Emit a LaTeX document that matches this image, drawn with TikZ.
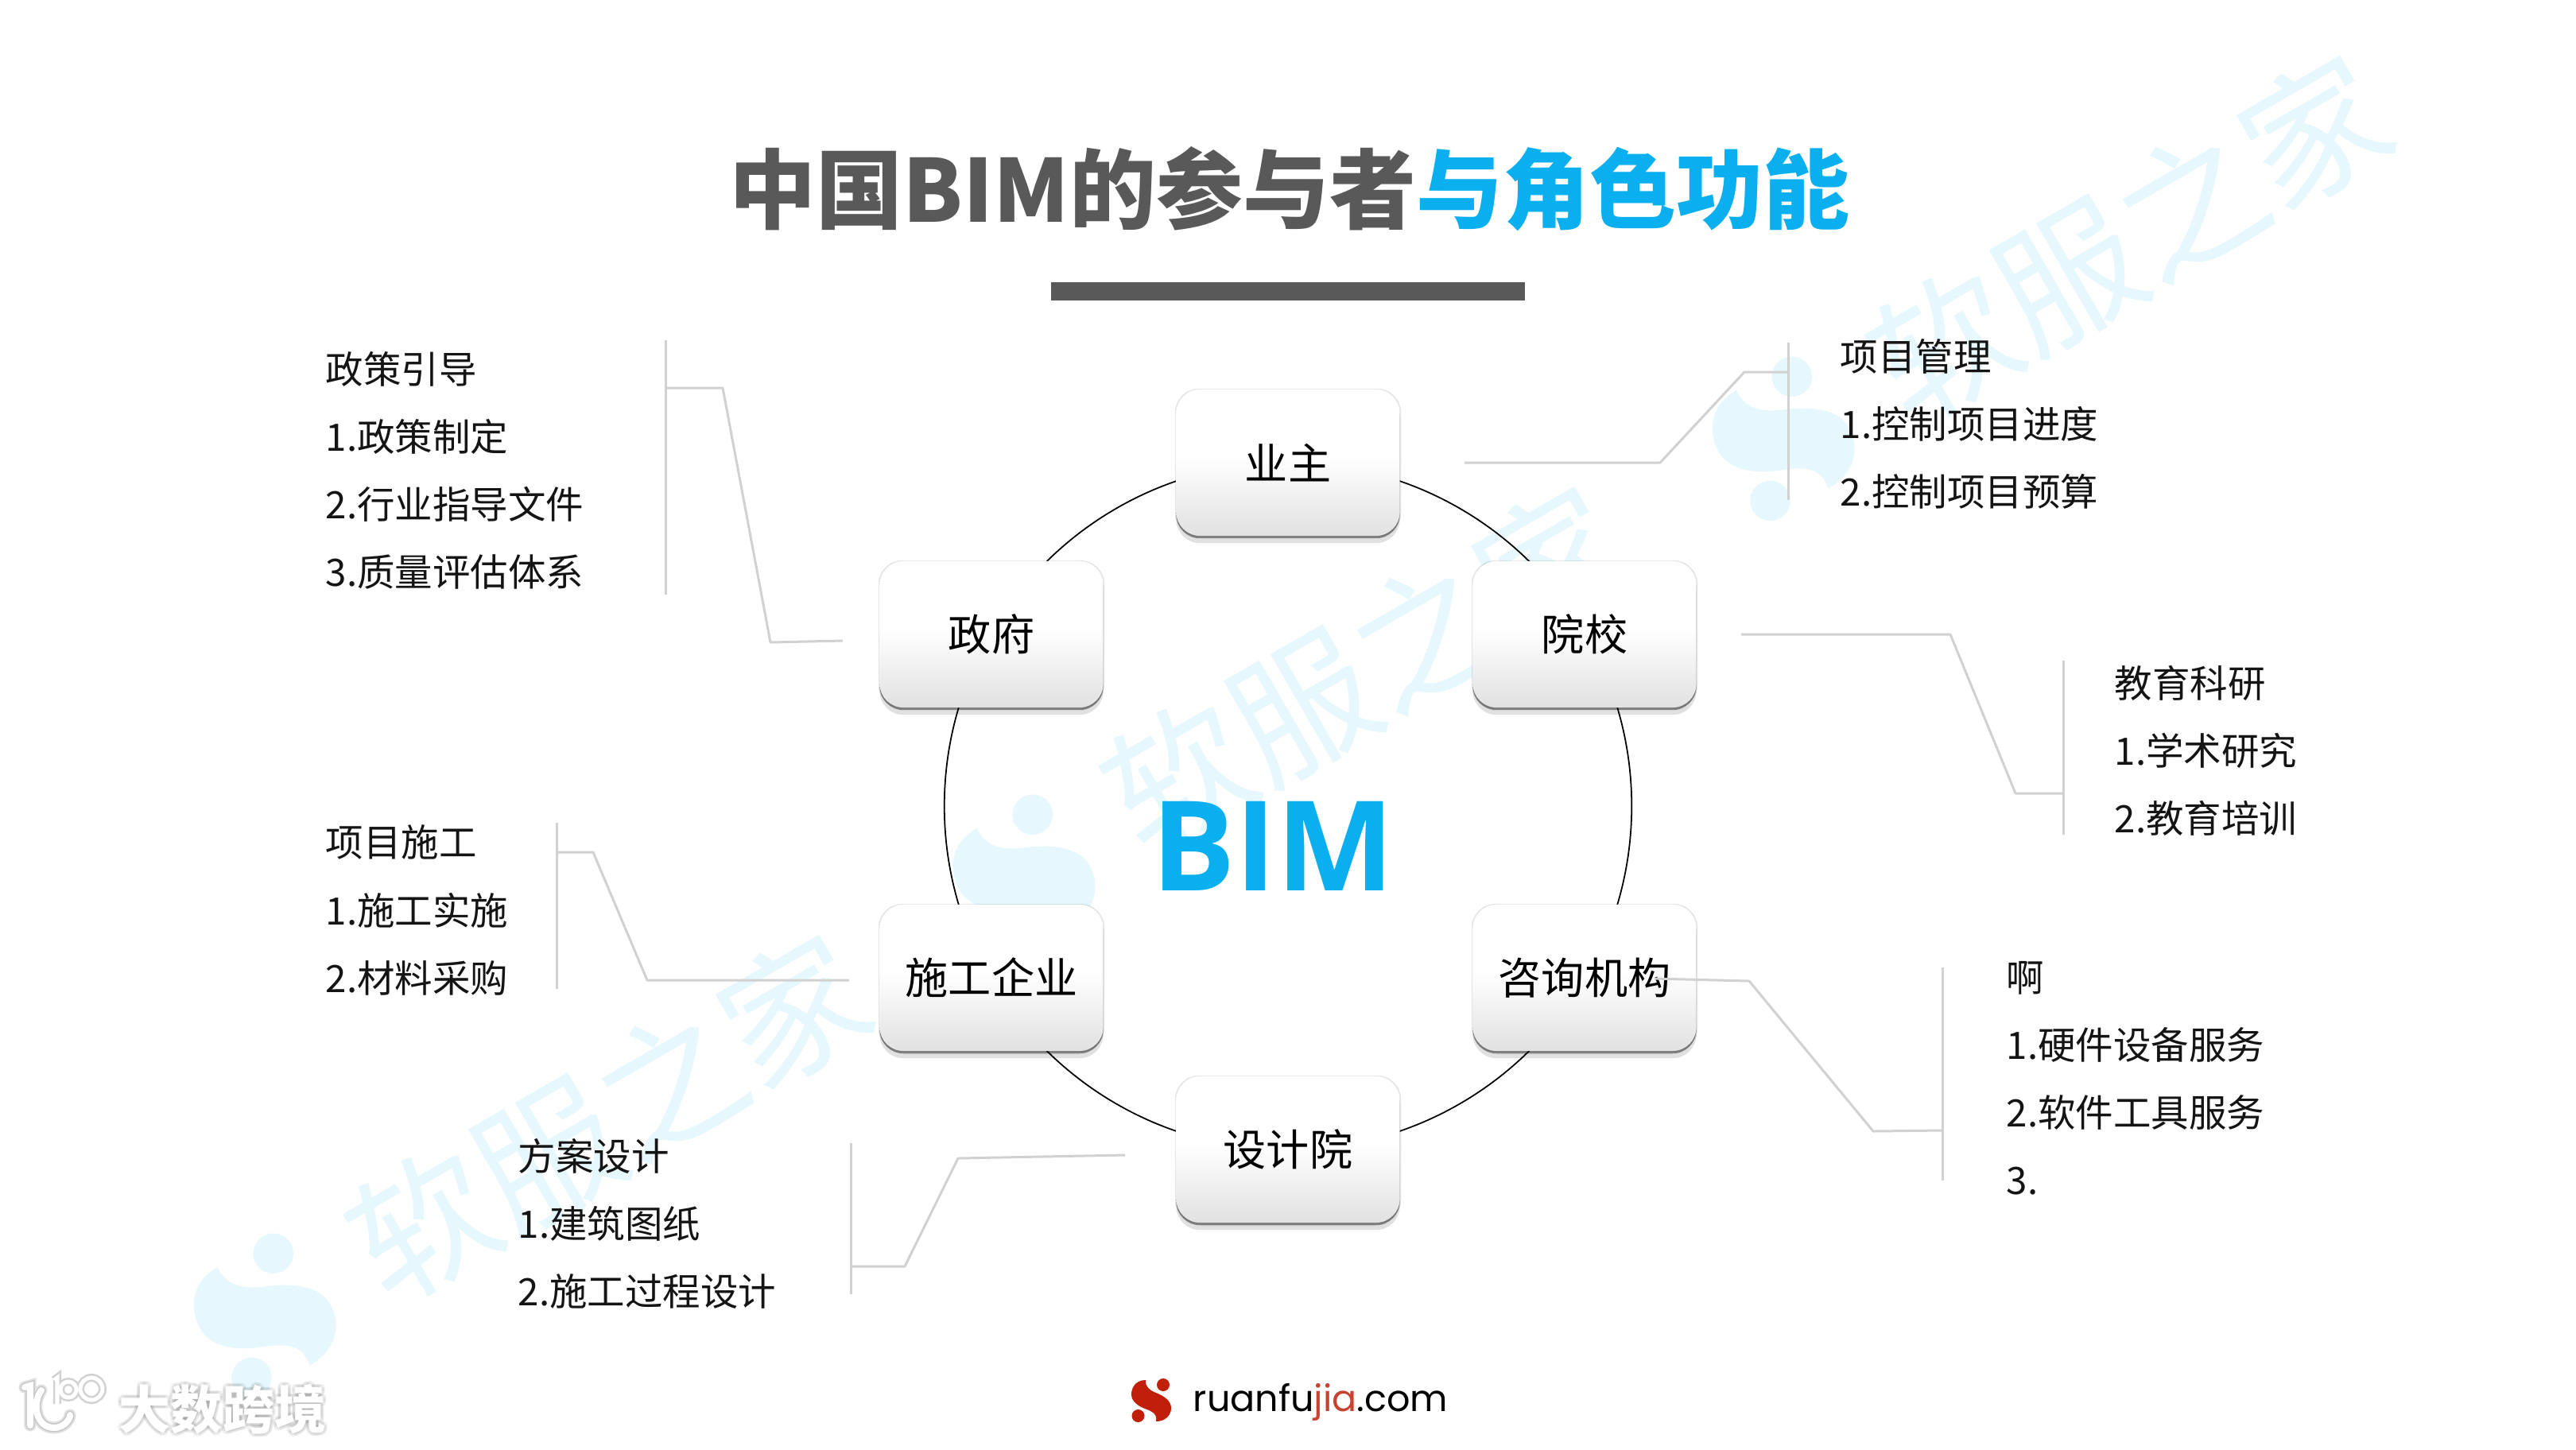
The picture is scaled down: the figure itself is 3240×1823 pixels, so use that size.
\documentclass[tikz,border=0pt]{standalone}
\usepackage{fontspec}
\setmainfont{Noto Sans CJK SC}
\newfontfamily\bimfont{Open Sans}
\newfontfamily\sitefont{Poppins}
\usetikzlibrary{positioning,shadows}
\definecolor{titlegrey}{HTML}{595959}
\definecolor{titleblue}{HTML}{0AAFF0}
\definecolor{wmblue}{HTML}{E6F8FD}
\definecolor{logored}{HTML}{C0200A}
\definecolor{boxgrey}{HTML}{E1E1E1}
\pgfdeclareverticalshading{boxshade}{100bp}{color(0bp)=(boxgrey); color(25bp)=(boxgrey); color(52bp)=(white); color(100bp)=(white)}
\providecommand{\slogo}[5]{\begin{scope}[shift={(#2,#3)},rotate=#4,scale=#5]
  \fill[#1] (-7,-26) .. controls (-20,-26) and (-25,-16) .. (-25,-8) .. controls (-25,0) and (-18,6) .. (-8,10)
    .. controls (0,13) and (8,16) .. (6,26) .. controls (18,26) and (25,18) .. (25,9)
    .. controls (25,0) and (16,-6) .. (6,-10) .. controls (-2,-13) and (-8,-18) .. (-7,-26) -- cycle;
  \fill[#1] (15,-20) circle (8);
  \fill[#1] (-16.5,19) circle (8);
\end{scope}}
\begin{document}
\begin{tikzpicture}[x=0.01cm, y=-0.01cm,
  wmtext/.style={rotate=30, text=wmblue, inner sep=0pt, font=\fontsize{51}{51}\selectfont},
  player/.style={rounded corners=8.5pt, minimum width=2.81cm, minimum height=1.84cm, inner sep=0pt,
                 shading=boxshade, font=\fontsize{15.4}{18}\selectfont, text=black,
                 general shadow={fill=black, opacity=.12, shadow yshift=-2.6pt},
                 general shadow={fill=black, opacity=.10, shadow scale=1.012},
                 general shadow={fill=black, opacity=.42, shadow yshift=-.9pt}},
  duty/.style={anchor=west, align=left, inner sep=0pt, text=black!92,
               font=\fontsize{13.5}{24.2}\selectfont},
  leader/.style={draw=black!18, line width=.85pt, line join=round},
  ringline/.style={draw=black, line width=.5pt},
  stamp/.style={inner sep=0pt, font=\fontsize{18.5}{20}\selectfont\bfseries},
]
\useasboundingbox (0,0) rectangle (3240,1823);
\fill[white] (0,0) rectangle (3240,1823);

% ---------------- watermarks ----------------
\slogo{wmblue}{333}{1655}{29}{3.16}
\slogo{wmblue}{1288}{1103}{29}{3.16}
\slogo{wmblue}{2243}{552}{29}{3.16}
\node[wmtext] (wmLow) at (765,1406) {软服之家};
\node[wmtext] (wmMid) at (1715,842) {软服之家};
\node[wmtext] (wmTop) at (2678,300) {软服之家};

% ---------------- title + bar ----------------
\node[inner sep=0pt, text=titlegrey, font=\fontsize{31}{34}\selectfont\bfseries] (title) at (1622,238)
  {中国BIM的参与者\textcolor{titleblue}{与角色功能}};
\fill[titlegrey] (1322,355) rectangle (1918,378);

% ---------------- ring + boxes ----------------
\node[ringline, circle, minimum size=8.64cm, inner sep=0pt] (ring) at (1620,1014) {};
\node[player] (owner)   at (1620,582)  {业主};
\node[player] (gov)     at (1247,798)  {政府};
\node[player] (school)  at (1993,798)  {院校};
\node[player] (build)   at (1247,1230) {施工企业};
\node[player] (consult) at (1993,1230) {咨询机构};
\node[player] (design)  at (1620,1446) {设计院};
\node[inner sep=0pt, text=titleblue, font=\fontsize{44.7}{50}\selectfont\bimfont\bfseries] (bim) at (1601,1064) {BIM};

% ---------------- duty lists ----------------
\node[duty] (dGov) at (409,592) {政策引导\\1.政策制定\\2.行业指导文件\\3.质量评估体系};
\node[duty] (dOwner) at (2314,533) {项目管理\\1.控制项目进度\\2.控制项目预算};
\node[duty] (dSchool) at (2659,944) {教育科研\\1.学术研究\\2.教育培训};
\node[duty] (dConsult) at (2523,1356) {啊\\1.硬件设备服务\\2.软件工具服务\\3.};
\node[duty] (dBuild) at (409,1145) {项目施工\\1.施工实施\\2.材料采购};
\node[duty] (dDesign) at (651,1539) {方案设计\\1.建筑图纸\\2.施工过程设计};

% ---------------- leaders: box side --> elbow --> bracket ----------------
\coordinate (gOut) at (1060,806);    \coordinate (gIn) at (837,488);
\coordinate (oOut) at (1842,582);    \coordinate (oIn) at (2249,468);
\coordinate (sOut) at (2190,798);    \coordinate (sIn) at (2595,998);
\coordinate (cOut) at (2081,1231);   \coordinate (cIn) at (2443,1422);
\coordinate (bOut) at (1068,1233);   \coordinate (bIn) at (700,1072);
\coordinate (pOut) at (1415,1453);   \coordinate (pIn) at (1070,1593);
\draw[leader] (gOut) -- (969,808) -- (909,488) -- (gIn);
\draw[leader] (oOut) -- (2088,582) -- (2194,468) -- (oIn);
\draw[leader] (sOut) -- (2453,798) -- (2535,998) -- (sIn);
\draw[leader] (cOut) -- (2200,1234) -- (2356,1423) -- (cIn);
\draw[leader] (bOut) -- (814,1233) -- (746,1072) -- (bIn);
\draw[leader] (pOut) -- (1205,1457) -- (1138,1593) -- (pIn);
\draw[leader] (837,428) -- (837,748);
\draw[leader] (2249,431) -- (2249,629);
\draw[leader] (2595,831) -- (2595,1050);
\draw[leader] (2443,1217) -- (2443,1485);
\draw[leader] (700,1035) -- (700,1244);
\draw[leader] (1070,1438) -- (1070,1628);

% ---------------- footer ----------------
\slogo{logored}{1448}{1762}{0}{1}
\node[inner sep=0pt, font=\fontsize{13.1}{16}\selectfont\sitefont] (site) at (1661,1764)
  {ruanfu\textcolor{logored!85}{jia}.com};

% ---------------- corner stamp ----------------
\foreach \w/\g in {15/.88,11/.78,8/1}{
  \definecolor{stampcol}{gray}{\g}
  \draw[stampcol, line width=\w*.285pt, line cap=round]
    (31,1745) -- (38,1743) -- (38,1793)
    (52,1749) .. controls (40,1765) and (45,1796) .. (68,1796) .. controls (80,1796) and (88,1786) .. (88,1780);
}
\foreach \w/\g in {10/.82,5/1}{
  \definecolor{stampcol}{gray}{\g}
  \draw[stampcol, line width=\w*.285pt] (68,1736) -- (72,1733) -- (72,1766);
  \draw[stampcol, line width=\w*.285pt] (86,1748) circle (10) (115,1747) circle (14);
}
\foreach \i/\dx/\dy in {1/-4/0,2/4/0,3/0/-4,4/0/4,5/3/3,6/-3/3,7/3/-3,8/-3/-3}{
  \node[stamp, text=black, opacity=.05] (cast\i) at (280+\dx,1773+\dy) {大数跨境};
}
\node[stamp, text=white] (stampText) at (280,1773) {大数跨境};
\end{tikzpicture}
\end{document}
